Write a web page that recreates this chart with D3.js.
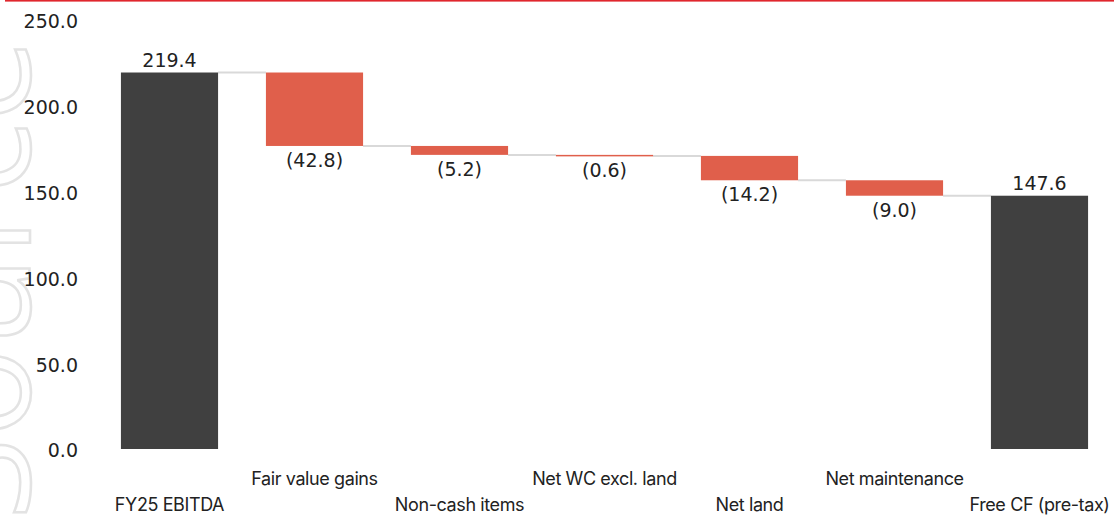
<!DOCTYPE html>
<html><head><meta charset="utf-8">
<script src="https://cdn.jsdelivr.net/npm/d3@7"></script>
<style>body{margin:0;background:#fff;}svg{display:block;}</style>
</head><body>
<svg id="c" width="1114" height="515"></svg>
<script>
const categories = ["FY25 EBITDA","Fair value gains","Non-cash items","Net WC excl. land","Net land","Net maintenance","Free CF (pre-tax)"];
const values = [219.4, -42.8, -5.2, -0.6, -14.2, -9.0, 147.6];
const isTotal = [true, false, false, false, false, false, true];
const labels = ["219.4","(42.8)","(5.2)","(0.6)","(14.2)","(9.0)","147.6"];
const yTicks = [0, 50, 100, 150, 200, 250];

const svg = d3.select("#c");
const W = 1114, H = 515;
const numFont = "DejaVu Sans, sans-serif";

// watermark
svg.append("text")
  .attr("transform","translate(30,520) rotate(-90)")
  .attr("font-family","Open Sans, sans-serif").attr("font-size",150)
  .attr("fill","none").attr("stroke","#e3e3e3").attr("stroke-width",2.5)
  .text("Source");

// top red line
svg.append("rect").attr("x",5).attr("y",0).attr("width",W-5).attr("height",1.6).attr("fill","#e0262d");

const x = d3.scaleBand().domain(categories).range([97,1112]).paddingInner(0.33).paddingOuter(0.165);
const y = d3.scaleLinear().domain([0,250]).range([449,20]);

// compute waterfall
let run = 0;
const data = categories.map((c,i)=>{
  let y0,y1;
  if(isTotal[i]){ y0=0; y1=values[i]; run=values[i]; }
  else { y0=run; y1=run+values[i]; run=y1; }
  return {c, v:values[i], lo:Math.min(y0,y1), hi:Math.max(y0,y1), end:run, total:isTotal[i], label:labels[i], i};
});

// y axis
const ax = svg.append("g").attr("transform","translate(78,0)")
  .call(d3.axisLeft(y).tickValues(yTicks).tickFormat(d3.format(".1f")).tickSize(0).tickPadding(0));
ax.select(".domain").remove();
ax.selectAll("text").attr("font-family",numFont).attr("font-size",19).attr("fill","#222").attr("dy","0.42em");

// connectors
svg.append("g").selectAll("line").data(data.slice(0,-1)).join("line")
  .attr("x1",d=>x(d.c)+x.bandwidth())
  .attr("x2",d=>x(categories[d.i+1]))
  .attr("y1",d=>y(d.end)).attr("y2",d=>y(d.end))
  .attr("stroke","#d9d9d9").attr("stroke-width",2);

// bars
svg.append("g").selectAll("rect").data(data).join("rect")
  .attr("x",d=>x(d.c)).attr("width",x.bandwidth())
  .attr("y",d=>y(d.hi)).attr("height",d=>Math.max(1.5,y(d.lo)-y(d.hi)))
  .attr("fill",d=>d.total?"#404040":"#e05f4b");

// value labels
svg.append("g").selectAll("text").data(data).join("text")
  .attr("x",d=>x(d.c)+x.bandwidth()/2)
  .attr("y",d=>d.total? y(d.hi)-6 : y(d.lo)+21)
  .attr("text-anchor","middle")
  .attr("font-family",numFont).attr("font-size",19).attr("fill","#222")
  .text(d=>d.label);

// category labels (staggered)
svg.append("g").selectAll("text").data(data).join("text")
  .attr("x",d=>x(d.c)+x.bandwidth()/2)
  .attr("y",d=>d.i%2===0?511:485)
  .attr("text-anchor","middle")
  .attr("font-family","Inter, sans-serif").attr("font-size",18).attr("letter-spacing","-0.4").attr("fill","#222")
  .text(d=>d.c);
</script>
</body></html>
